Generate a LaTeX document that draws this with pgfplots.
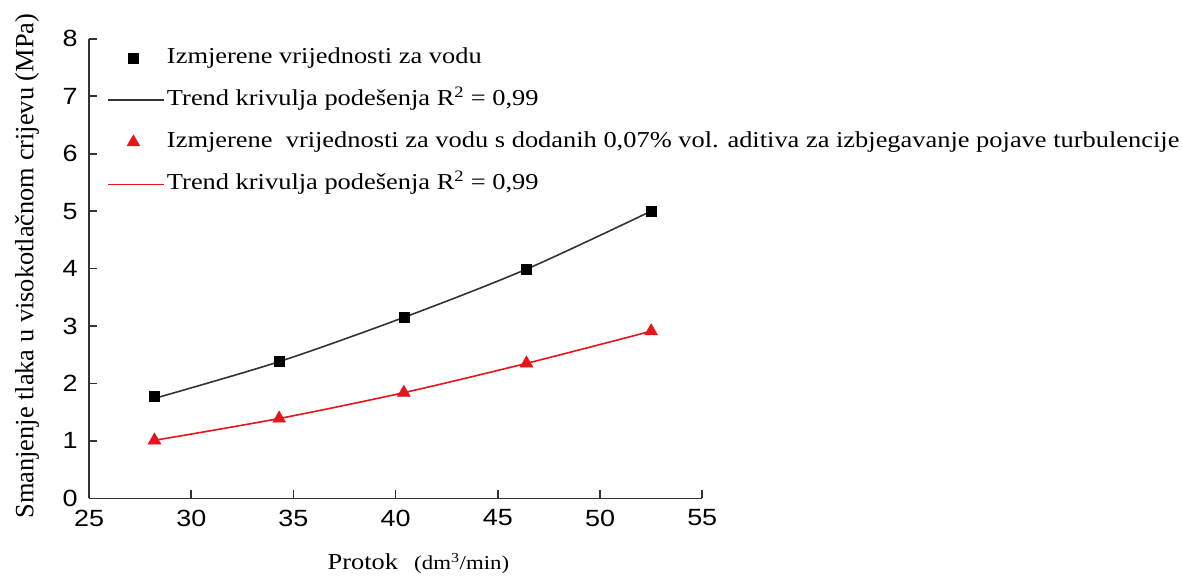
\documentclass[border=0pt]{standalone}
\usepackage{fontspec}
\setmainfont{Liberation Serif}[FakeStretch=1.16]
\newfontfamily\plainserif{Liberation Serif}
\newfontfamily\sansf{Liberation Sans}[FakeStretch=1.15]
\usepackage{pgfplots}
\pgfplotsset{compat=1.18}
\definecolor{axgray}{HTML}{333333}
\definecolor{myred}{HTML}{E8141B}
\begin{document}
\begin{tikzpicture}
\begin{axis}[
  width=457.7pt, height=343pt, scale only axis,
  xmin=25, xmax=55, ymin=0, ymax=8,
  axis lines*=left,
  axis line style={draw=axgray, line width=1.2pt},
  tick align=inside,
  major tick length=6pt,
  tick style={draw=axgray, line width=1.2pt},
  xtick={25,30,...,55}, ytick={0,1,...,8},
  /pgf/number format/assume math mode=true,
  ticklabel style={font=\sansf\fontsize{17.5}{20}\selectfont},
  xticklabel style={yshift=-5pt},
  yticklabel style={xshift=-5pt},
  xlabel={Protok\hspace{12pt}{\fontsize{14.7}{16}\selectfont(dm\textsuperscript{3}/min)}},
  every axis x label/.style={at={([xshift=17pt,yshift=-53pt]axis description cs:0.5,0)}, anchor=base, font=\fontsize{17}{20}\selectfont},
  ylabel={Smanjenje tlaka u visokotlačnom crijevu (MPa)},
  every axis y label/.style={at={([xshift=-41.5pt,yshift=1.8pt]axis description cs:0,0.5)}, rotate=90, anchor=base, font=\plainserif\fontsize{19.7}{22}\selectfont},
  legend style={draw=none, fill=none, at={(axis cs:25,8)}, anchor=north west,
    xshift=13.5pt, yshift=-4pt, font=\fontsize{17}{20}\selectfont, row sep=11.5pt,
    inner sep=0pt, nodes={text height=12pt, text depth=4pt, inner sep=2pt}},
  legend cell align=left,
  legend image code/.code={\path (0cm,0cm) -- (1.45cm,0cm);\draw[mark repeat=2,mark phase=2,#1] plot coordinates {(0cm,0cm) (0.66cm,0cm) (1.32cm,0cm)};},
]
\addlegendimage{black, draw opacity=0, mark=square*, mark size=3.7pt, mark options={draw opacity=1}}
\addlegendentry{Izmjerene vrijednosti za vodu}
\addlegendimage{axgray, line width=1.2pt}
\addlegendentry{Trend krivulja podešenja R\textsuperscript{2} = 0,99}
\addlegendimage{myred, draw opacity=0, mark=triangle*, mark size=5.5pt, mark options={draw opacity=1}}
\addlegendentry{Izmjerene\ \ vrijednosti za vodu s dodanih 0,07\% vol. aditiva za izbjegavanje pojave turbulencije}
\addlegendimage{myred, line width=1.2pt}
\addlegendentry{Trend krivulja podešenja R\textsuperscript{2} = 0,99}

\addplot[axgray, line width=1.2pt, smooth, forget plot] coordinates {
(28.2,1.74) (34.3,2.38) (40.4,3.15) (46.4,3.99) (52.5,5.00)};
\addplot[myred, line width=1.2pt, smooth, forget plot] coordinates {
(28.2,1.01) (34.3,1.39) (40.4,1.84) (46.4,2.35) (52.5,2.91)};
\addplot[only marks, mark=square*, mark size=3.7pt, color=black, forget plot] coordinates {
(28.2,1.77) (34.3,2.38) (40.4,3.16) (46.4,3.99) (52.5,5.00)};
\addplot[only marks, mark=triangle*, mark size=5.5pt, color=myred, forget plot] coordinates {
(28.2,1.01) (34.3,1.39) (40.4,1.84) (46.4,2.35) (52.5,2.91)};
\end{axis}
\path ([xshift=-66.5pt]current axis.south west) ([yshift=29pt]current axis.north west);
\end{tikzpicture}
\end{document}
